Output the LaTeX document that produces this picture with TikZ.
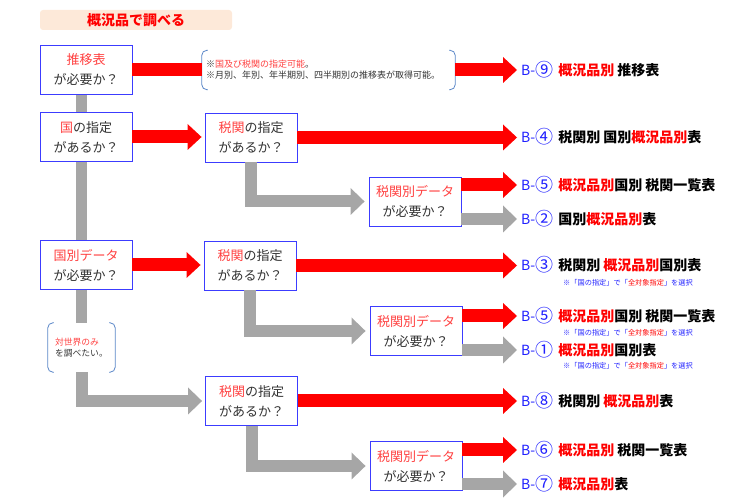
\documentclass[tikz,border=0pt]{standalone}
\usepackage{fontspec}
\setmainfont{Noto Sans CJK JP}
\usetikzlibrary{arrows.meta}
\definecolor{boxblue}{HTML}{3C3CFF}
\definecolor{txtred}{HTML}{FF4040}
\definecolor{txtdark}{HTML}{333333}
\definecolor{lblblue}{HTML}{2020FF}
\definecolor{grayc}{HTML}{A6A6A6}
\definecolor{brkblue}{HTML}{5B87C8}
\definecolor{titlebg}{HTML}{FDE9D9}
\newcommand\rd[1]{\textcolor{red}{#1}}
\newcommand\tr[1]{\textcolor{txtred}{#1}}
\newcommand\bn[1]{{\mdseries\color{lblblue}B-\raisebox{-1.2pt}{\fontsize{18}{16}\selectfont #1}}\hspace{5pt}}
\newcommand\subnote{※「国の指定」で「\textcolor{red}{全対象指定}」を選択}
\begin{document}
\begin{tikzpicture}[x=1pt,y=-1pt,
 qbox/.style={draw=boxblue,line width=0.9pt,fill=white,minimum width=92pt,minimum height=49pt,align=center,inner sep=0pt,text=txtdark,font=\fontsize{13}{20}\selectfont},
 lbl/.style={anchor=west,inner sep=0pt,font=\fontsize{14}{16}\selectfont\bfseries},
 subn/.style={anchor=west,inner sep=0pt,text=lblblue,font=\fontsize{7.2}{8}\selectfont},
 redline/.style={draw=red,line width=13pt},
 redarrow/.style={draw=red,line width=13pt,-{Triangle[length=14pt,width=26pt,line width=0pt]}},
 grayarrow/.style={draw=grayc,line width=12pt,-{Triangle[length=14pt,width=27pt,line width=0pt]}},
 grayline/.style={draw=grayc,line width=11pt},
 brk/.style={draw=brkblue,line width=0.8pt,rounded corners=5pt},
]
\useasboundingbox (0,0) rectangle (750,502);

% title
\node[fill=titlebg,rounded corners=3pt,minimum width=192pt,minimum height=20pt,inner sep=0pt,
  text=red,font=\fontsize{14}{16}\selectfont\bfseries] (title) at (136,20) {概況品で調べる};

% question boxes
\node[qbox] (A) at (86,70) {\tr{推移表}\\が必要か？};
\node[qbox] (B) at (86,137) {\tr{国}の指定\\があるか？};
\node[qbox] (C) at (86,265) {\tr{国別データ}\\が必要か？};
\node[qbox] (D) at (251,137.5) {\tr{税関}の指定\\があるか？};
\node[qbox] (E) at (250,265.5) {\tr{税関}の指定\\があるか？};
\node[qbox] (F) at (251.5,401) {\tr{税関}の指定\\があるか？};
\node[qbox] (G) at (415,201.5) {\tr{税関別データ}\\が必要か？};
\node[qbox] (H) at (416,331) {\tr{税関別データ}\\が必要か？};
\node[qbox] (I) at (416,466) {\tr{税関別データ}\\が必要か？};

% notes
\node[inner xsep=4pt,inner ysep=0pt,text width=245pt,minimum height=39pt,align=left,text=txtdark,
  font=\fontsize{9}{11}\selectfont] (n1) at (328.5,70)
  {※\tr{国及び税関の指定可能}。\\※月別、年別、年半期別、四半期別の推移表が取得可能。};
\node[inner xsep=7pt,inner ysep=0pt,text width=53pt,minimum height=49pt,align=left,text=txtdark,
  font=\fontsize{8.8}{11}\selectfont] (n2) at (81.5,347.5)
  {\tr{対世界のみ}\\を調べたい。};
\draw[brk] ([xshift=6pt]n1.north west) -- (n1.north west) -- (n1.south west) -- ([xshift=6pt]n1.south west);
\draw[brk] ([xshift=-6pt]n1.north east) -- (n1.north east) -- (n1.south east) -- ([xshift=-6pt]n1.south east);
\draw[brk] ([xshift=6pt]n2.north west) -- (n2.north west) -- (n2.south west) -- ([xshift=6pt]n2.south west);
\draw[brk] ([xshift=-6pt]n2.north east) -- (n2.north east) -- (n2.south east) -- ([xshift=-6pt]n2.south east);

% result labels
\node[lbl] (B9) at (521,70) {\bn{⑨}\rd{概況品別}\ 推移表};
\node[lbl] (B4) at (521,137) {\bn{④}税関別\ 国別\rd{概況品別}表};
\node[lbl] (B5a) at (521,185) {\bn{⑤}\rd{概況品別}国別\ 税関一覧表};
\node[lbl] (B2) at (521,219) {\bn{②}国別\rd{概況品別}表};
\node[lbl] (B3) at (521,265) {\bn{③}税関別\ \rd{概況品別}国別表};
\node[subn] (s3) at (563,283) {\subnote};
\node[lbl] (B5b) at (521,316) {\bn{⑤}\rd{概況品別}国別\ 税関一覧表};
\node[subn] (s5) at (563,333) {\subnote};
\node[lbl] (B1) at (521,350) {\bn{①}\rd{概況品別}国別表};
\node[subn] (s1) at (563,366) {\subnote};
\node[lbl] (B8) at (521,401) {\bn{⑧}税関別\ \rd{概況品別}表};
\node[lbl] (B6) at (521,450) {\bn{⑥}\rd{概況品別}\ 税関一覧表};
\node[lbl] (B7) at (521,484) {\bn{⑦}\rd{概況品別}表};

% gray spine on the left
\draw[grayline] ([xshift=-4.5pt]A.south) -- ([xshift=-4.5pt]B.north);
\draw[grayline] ([xshift=-4.5pt]B.south) -- ([xshift=-4.5pt]C.north);
\draw[grayline] ([xshift=-4.5pt]C.south) -- (n2.north);
\draw[grayarrow] (n2.south) |- ([xshift=-3pt]F.west);

% gray L connectors
\draw[grayarrow] (D.south) |- ([xshift=-4pt]G.west);
\draw[grayarrow] (E.south) |- ([xshift=-4pt]H.west);
\draw[grayarrow] (F.south) |- ([xshift=-4pt]I.west);

% red arrows
\draw[redline] (A.east) -- (n1.west);
\draw[redarrow] (n1.east) -- ([xshift=-4pt]B9.west);
\draw[redarrow] (B.east) -- ([xshift=-3pt]D.west |- B.east);
\draw[redarrow] (C.east) -- ([xshift=-3pt]E.west |- C.east);
\draw[redarrow] (D.east) -- ([xshift=-4pt]D.east -| B4.west);
\draw[redarrow] (E.east) -- ([xshift=-4pt]E.east -| B3.west);
\draw[redarrow] (F.east) -- ([xshift=-4pt]F.east -| B8.west);
\draw[redarrow] (G.east |- B5a.west) -- ([xshift=-4pt]B5a.west);
\draw[grayarrow] (G.east |- B2.west) -- ([xshift=-4pt]B2.west);
\draw[redarrow] (H.east |- B5b.west) -- ([xshift=-4pt]B5b.west);
\draw[grayarrow] (H.east |- B1.west) -- ([xshift=-4pt]B1.west);
\draw[redarrow] (I.east |- B6.west) -- ([xshift=-4pt]B6.west);
\draw[grayarrow] (I.east |- B7.west) -- ([xshift=-4pt]B7.west);
\end{tikzpicture}
\end{document}
